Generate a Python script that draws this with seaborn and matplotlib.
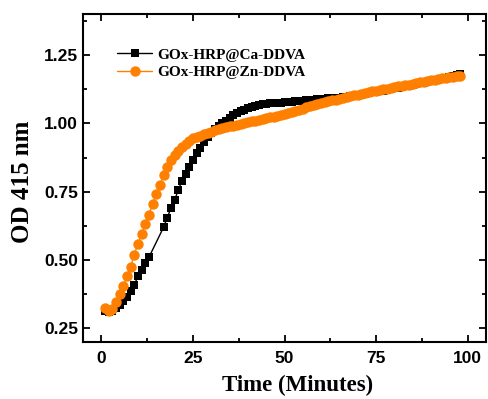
import matplotlib
matplotlib.use("Agg")
import matplotlib.pyplot as plt
import seaborn as sns
import pandas as pd
from matplotlib.ticker import MultipleLocator

# time points (minutes)
time_zn = list(range(1, 99))
time_ca = list(range(1, 14)) + list(range(17, 99))

od_zn = [0.325, 0.315, 0.320, 0.345, 0.375, 0.405, 0.440, 0.475, 0.520, 0.560,
         0.595, 0.630, 0.665, 0.705, 0.740, 0.775, 0.810, 0.840, 0.865, 0.885,
         0.900, 0.915, 0.925, 0.935, 0.945, 0.950, 0.955, 0.960, 0.965, 0.970,
         0.975, 0.980, 0.983, 0.986, 0.989, 0.992, 0.995, 0.998, 1.001, 1.004,
         1.007, 1.010, 1.013, 1.016, 1.019, 1.022, 1.025, 1.028, 1.031, 1.034,
         1.038, 1.042, 1.046, 1.050, 1.054, 1.058, 1.062, 1.066, 1.070, 1.073,
         1.077, 1.080, 1.084, 1.087, 1.090, 1.093, 1.096, 1.099, 1.102, 1.105,
         1.108, 1.111, 1.114, 1.117, 1.120, 1.122, 1.125, 1.127, 1.130, 1.132,
         1.135, 1.137, 1.140, 1.142, 1.145, 1.147, 1.150, 1.152, 1.155, 1.157,
         1.160, 1.162, 1.165, 1.167, 1.169, 1.171, 1.173, 1.175]

od_ca = [0.315, 0.310, 0.315, 0.325, 0.335, 0.350, 0.365, 0.385, 0.410, 0.440,
         0.465, 0.490, 0.510,
         # 17-26
         0.620, 0.655, 0.690, 0.720, 0.755, 0.790, 0.815, 0.840, 0.865, 0.890,
         # 27-36
         0.910, 0.930, 0.950, 0.965, 0.980, 0.990, 1.000, 1.010, 1.020, 1.030,
         # 37-46
         1.038, 1.045, 1.050, 1.055, 1.060, 1.063, 1.066, 1.069, 1.071, 1.073,
         # 47-56
         1.074, 1.075, 1.076, 1.077, 1.078, 1.079, 1.080, 1.082, 1.083, 1.085,
         # 57-66
         1.086, 1.087, 1.088, 1.089, 1.090, 1.091, 1.092, 1.093, 1.094, 1.095,
         # 67-76
         1.097, 1.099, 1.101, 1.103, 1.105, 1.108, 1.110, 1.113, 1.115, 1.118,
         # 77-86
         1.120, 1.123, 1.125, 1.128, 1.131, 1.133, 1.136, 1.138, 1.141, 1.144,
         # 87-98
         1.146, 1.149, 1.151, 1.154, 1.157, 1.160, 1.163, 1.166, 1.170, 1.174,
         1.178, 1.182]

label_ca = "GOx-HRP@Ca-DDVA"
label_zn = "GOx-HRP@Zn-DDVA"

sns.set_style("ticks")
plt.rcParams["font.family"] = ["Liberation Sans", "DejaVu Sans"]
plt.rcParams.update({"text.color": "black", "axes.labelcolor": "black",
                     "xtick.color": "black", "ytick.color": "black",
                     "axes.edgecolor": "black"})

fig = plt.figure(figsize=(4.88, 3.99), dpi=100)
ax = fig.add_axes([83 / 488, 57 / 399, 403 / 488, 328 / 399])

df_ca = pd.DataFrame({"t": time_ca, "od": od_ca})
df_zn = pd.DataFrame({"t": time_zn, "od": od_zn})

sns.lineplot(data=df_ca, x="t", y="od", ax=ax, color="black", lw=1,
             marker="s", markersize=6.2, markeredgewidth=0, label=label_ca)
sns.lineplot(data=df_zn, x="t", y="od", ax=ax, color="#ff8000", lw=1,
             marker="o", markersize=7.5, markeredgewidth=0, label=label_zn)

ax.set_xlim(-5, 105)
ax.set_ylim(0.2, 1.4)
ax.xaxis.set_major_locator(MultipleLocator(25))
ax.xaxis.set_minor_locator(MultipleLocator(12.5))
ax.set_yticks([0.25, 0.50, 0.75, 1.00, 1.25])
ax.yaxis.set_minor_locator(MultipleLocator(0.125))
ax.yaxis.set_major_formatter(plt.FormatStrFormatter("%.2f"))

ax.tick_params(which="both", direction="in", top=True, right=True, width=1.3)
ax.tick_params(which="major", length=5, labelsize=12.5)
ax.tick_params(which="minor", length=3)
ax.tick_params(axis="x", which="major", pad=6.5)
for lab in ax.get_xticklabels() + ax.get_yticklabels():
    lab.set_fontweight("bold")
for s in ax.spines.values():
    s.set_linewidth(1.5)
    s.set_visible(True)

ax.set_xlabel("Time (Minutes)", family="Liberation Serif", fontweight="bold",
              fontsize=16.5)
ax.xaxis.set_label_coords(0.533, -0.1)
ax.set_ylabel("OD 415 nm", family="Liberation Serif", fontweight="bold",
              fontsize=18)
ax.yaxis.set_label_coords(-0.121, 0.489)

leg = ax.legend(loc="upper left", bbox_to_anchor=(0.07, 0.915), frameon=False,
                prop={"family": "Liberation Serif", "weight": "bold", "size": 11},
                handlelength=2.3, handletextpad=0.3, labelspacing=0.25,
                borderaxespad=0)

fig.savefig("out.png", dpi=100)
